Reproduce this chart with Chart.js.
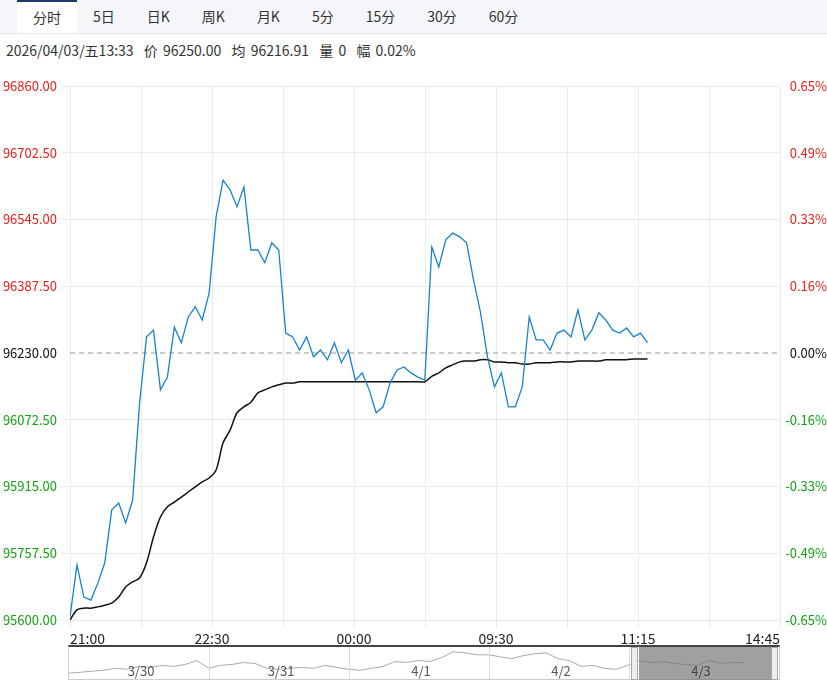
<!DOCTYPE html>
<html>
<head>
<meta charset="utf-8">
<script src="https://cdn.jsdelivr.net/npm/chart.js@4/dist/chart.umd.min.js"></script>
<style>
  body { margin: 0; width: 827px; height: 683px; background: #fff; font-family: "Noto Sans CJK SC", "Noto Sans", sans-serif; overflow: hidden; position: relative; }
  .tabs { height: 33px; background: #f4f6f9; border-bottom: 1px solid #e3e7ee; display: flex; padding-left: 17px; }
  .tab { font-size: 14px; color: #333; line-height: 33px; padding: 0 16px; }
  .tab.active { background: #fff; border-top: 2px solid #1e3a6e; line-height: 31px; }
  .info { position: absolute; top: 40px; left: 6px; font-size: 14px; color: #333; word-spacing: 2px; }
  #main { position: absolute; left: 0; top: 70px; }
  #navWrap { position: absolute; left: 68px; top: 645px; width: 712px; height: 35px; border: 1px solid #ccc; border-top: 2px solid #444; box-sizing: border-box; }
  #nav { position: absolute; left: 0; top: 0; }
  .sep { position: absolute; top: 0; bottom: 0; width: 1px; background: #ddd; }
  .day { position: absolute; top: 14px; font-size: 13px; color: #555; transform: translateX(-50%); }
  .shade { position: absolute; left: 570px; top: 0; width: 132px; height: 33px; background: rgba(120,120,120,0.7); }
  .handle { position: absolute; top: 0; width: 7px; height: 33px; background: #eee; border: 1px solid #aaa; box-sizing: border-box; }
</style>
</head>
<body>
<div class="tabs">
  <div class="tab active">分时</div><div class="tab">5日</div><div class="tab">日K</div><div class="tab">周K</div><div class="tab">月K</div><div class="tab">5分</div><div class="tab">15分</div><div class="tab">30分</div><div class="tab">60分</div>
</div>
<div class="info">2026/04/03/五13:33&nbsp; 价 96250.00&nbsp; 均 96216.91&nbsp; 量 0&nbsp; 幅 0.02%</div>
<canvas id="main" width="827" height="575"></canvas>
<div id="navWrap">
  <canvas id="nav" width="710" height="31"></canvas>
  <div class="sep" style="left:140px"></div><div class="sep" style="left:280px"></div>
  <div class="sep" style="left:420px"></div><div class="sep" style="left:560px"></div>
  <div class="day" style="left:72px">3/30</div><div class="day" style="left:212px">3/31</div>
  <div class="day" style="left:352px">4/1</div><div class="day" style="left:492px">4/2</div>
  <div class="shade"></div>
  <div class="day" style="left:632px;color:#444">4/3</div>
  <div class="handle" style="left:562px"></div><div class="handle" style="left:702px"></div>
</div>
<script>
// 分时 数据
const prevClose = 96230;
const yTicks = [95600, 95757.5, 95915, 96072.5, 96230, 96387.5, 96545, 96702.5, 96860];
const pctLabels = ['-0.65%', '-0.49%', '-0.33%', '-0.16%', '0.00%', '0.16%', '0.33%', '0.49%', '0.65%'];
const timeLabels = ['21:00', '22:30', '00:00', '09:30', '11:15', '14:45'];
// 每个数据点在时间轴上的间隔 (轴 0..100)
const xStep = 0.98;

const priceValues = [
  95607, 95730, 95654, 95647, 95687, 95735, 95860, 95876, 95829, 95883,
  96112, 96268, 96284, 96143, 96173, 96291, 96254, 96315, 96339, 96308,
  96372, 96551, 96638, 96615, 96575, 96622, 96473, 96473, 96443, 96490,
  96473, 96277, 96268, 96237, 96268, 96221, 96237, 96214, 96254, 96207,
  96237, 96166, 96183, 96143, 96089, 96103, 96159, 96190, 96197, 96183,
  96173, 96166, 96480, 96433, 96497, 96513, 96504, 96490, 96402, 96325,
  96221, 96150, 96183, 96103, 96103, 96150, 96315, 96261, 96261, 96237,
  96277, 96284, 96268, 96332, 96261, 96284, 96325, 96308, 96284, 96277,
  96289, 96268, 96277, 96254
];
const avgValues = [
  95600, 95624, 95628, 95628, 95631, 95635, 95640, 95654, 95678, 95690,
  95699, 95735, 95796, 95843, 95867, 95878, 95890, 95902, 95914, 95926,
  95935, 95954, 96018, 96048, 96089, 96103, 96114, 96136, 96143, 96150,
  96155, 96159, 96159, 96162, 96162, 96162, 96162, 96162, 96162, 96162,
  96162, 96162, 96162, 96162, 96162, 96162, 96162, 96162, 96162, 96162,
  96162, 96162, 96175, 96183, 96195, 96202, 96209, 96211, 96211, 96214,
  96214, 96209, 96209, 96207, 96207, 96204, 96204, 96207, 96207, 96207,
  96209, 96209, 96209, 96211, 96211, 96211, 96211, 96214, 96214, 96214,
  96214, 96216, 96216, 96216
];

// 导航条 数据
const navValues = [
  5, 6, 7, 8, 10, 9, 12, 11, 13, 12, 14, 18,
  10, 13, 14, 16, 15, 10, 9, 10, 11, 10, 13, 11,
  9, 8, 10, 12, 17, 16, 18, 17, 21, 27, 26, 24,
  24, 22, 20, 23, 25, 26, 20, 18, 12, 13, 10, 9,
  13, 18, 16, 17, 15, 14, 13, 18, 15, 16, 16
];

const RED = '#e8201e', GREEN = '#16a016';
const FONT = { family: '"Noto Sans CJK SC", "Noto Sans", sans-serif', size: 13 };

const toPts = (arr, step) => arr.map((v, i) => ({ x: i * step, y: v }));
const tickColor = ctx => (ctx.tick.value > prevClose ? RED : ctx.tick.value < prevClose ? GREEN : '#111');

new Chart(document.getElementById('main'), {
  type: 'line',
  data: {
    datasets: [
      { data: toPts(priceValues, xStep), borderColor: '#1a82c8', borderWidth: 1.3, pointRadius: 0, tension: 0 },
      { data: toPts(avgValues, xStep), borderColor: '#111', borderWidth: 1.5, pointRadius: 0, tension: 0.3 },
      { data: [{ x: 0, y: prevClose }, { x: 100, y: prevClose }], borderColor: '#999', borderWidth: 1, borderDash: [5, 4], pointRadius: 0 }
    ]
  },
  options: {
    responsive: false,
    animation: false,
    layout: { padding: { top: 16, right: 0, left: 0, bottom: 0 } },
    plugins: { legend: { display: false }, tooltip: { enabled: false } },
    scales: {
      x: {
        type: 'linear', min: 0, max: 100,
        grid: { color: '#e8ebef' },
        border: { color: '#e8ebef' },
        afterBuildTicks: s => { s.ticks = Array.from({ length: 11 }, (_, i) => ({ value: i * 10 })); },
        ticks: {
          autoSkip: false, maxRotation: 0, align: 'inner', color: '#222', font: { ...FONT, size: 14 }, padding: 2,
          callback: v => (v % 20 === 0 ? timeLabels[v / 20] : '')
        },
        afterFit: s => { s.height = 25; }
      },
      y: {
        position: 'left', min: yTicks[0], max: yTicks[yTicks.length - 1],
        afterBuildTicks: s => { s.ticks = yTicks.map(v => ({ value: v })); },
        grid: { color: ctx => (ctx.tick && ctx.tick.value === prevClose ? 'rgba(0,0,0,0)' : '#e8ebef') },
        border: { display: false },
        ticks: { font: FONT, padding: 5, color: tickColor, callback: v => v.toFixed(2) },
        afterFit: s => { s.width = 70; }
      },
      y2: {
        position: 'right', min: yTicks[0], max: yTicks[yTicks.length - 1],
        afterBuildTicks: s => { s.ticks = yTicks.map(v => ({ value: v })); },
        grid: { display: false },
        border: { display: false },
        ticks: { font: FONT, padding: 4, crossAlign: 'far', color: tickColor, callback: (v, i) => pctLabels[i] },
        afterFit: s => { s.width = 47; }
      }
    }
  }
});

new Chart(document.getElementById('nav'), {
  type: 'line',
  data: { datasets: [{ data: toPts(navValues, 1), borderColor: '#aaa', borderWidth: 1, pointRadius: 0 }] },
  options: {
    responsive: false, animation: false,
    layout: { padding: 0 },
    plugins: { legend: { display: false }, tooltip: { enabled: false } },
    scales: {
      x: { type: 'linear', min: 0, max: 61, display: false },
      y: { min: 0, max: 32, display: false }
    }
  }
});
</script>
</body>
</html>
